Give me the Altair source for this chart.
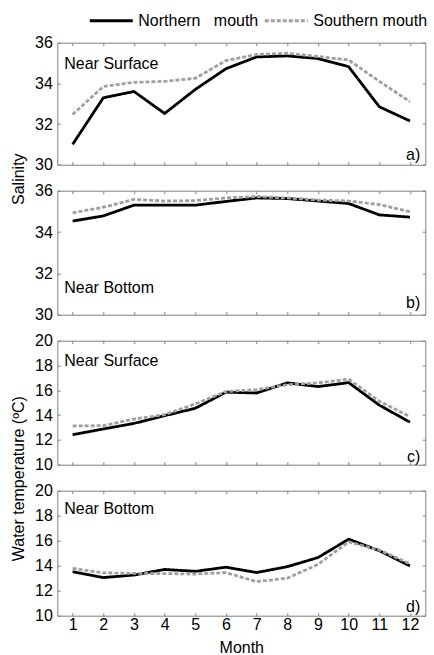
import altair as alt
import pandas as pd

months = list(range(1, 13))
series_names = ["Northern\u00a0\u00a0 mouth", "Southern mouth"]

sal_surf_north = [31.0, 33.29, 33.6, 32.52, 33.7, 34.72, 35.3, 35.35, 35.22, 34.82, 32.85, 32.15]
sal_surf_south = [32.47, 33.85, 34.05, 34.1, 34.25, 35.12, 35.42, 35.48, 35.32, 35.15, 34.1, 33.1]
sal_bot_north = [34.53, 34.78, 35.3, 35.3, 35.3, 35.48, 35.65, 35.62, 35.5, 35.38, 34.83, 34.72]
sal_bot_south = [34.93, 35.2, 35.58, 35.5, 35.52, 35.65, 35.72, 35.65, 35.55, 35.5, 35.33, 34.98]
temp_surf_north = [12.42, 12.88, 13.33, 13.95, 14.55, 15.85, 15.78, 16.6, 16.3, 16.62, 14.8, 13.43]
temp_surf_south = [13.12, 13.15, 13.68, 14.03, 14.9, 15.9, 16.05, 16.45, 16.6, 16.9, 15.12, 13.88]
temp_bot_north = [13.52, 13.05, 13.25, 13.7, 13.55, 13.88, 13.45, 13.92, 14.65, 16.12, 15.2, 13.98]
temp_bot_south = [13.78, 13.43, 13.38, 13.37, 13.33, 13.45, 12.72, 13.0, 14.1, 15.9, 15.25, 14.15]

sal_ticks = [30, 32, 34, 36]
temp_ticks = [10, 12, 14, 16, 18, 20]

FONT = "Liberation Sans"
GRAY = "#808080"
W = 368


def panel(north, south, ydomain, yticks, height, near_text, near_y, letter, letter_dy,
          ytitle=None, title_y=None, show_x=False, legend=False):
    df = pd.DataFrame({
        "month": months * 2,
        "value": north + south,
        "series": [series_names[0]] * 12 + [series_names[1]] * 12,
    })
    xs = alt.Scale(domain=[0.5, 12.5], nice=False, zero=False)
    ys = alt.Scale(domain=ydomain, nice=False, zero=False)

    bx = dict(orient="bottom", values=months, offset=-3, tickSize=3, domain=False, grid=False,
              tickColor=GRAY, labels=show_x, labelFontSize=16, labelColor="black",
              labelPadding=1, titleFontSize=16, titleFontWeight="normal", titleColor="black",
              titlePadding=7)
    ly = dict(orient="left", values=yticks, offset=-3, tickSize=3, domain=False, grid=False,
              tickColor=GRAY, labelFontSize=16, labelColor="black", labelPadding=5)
    if ytitle:
        ly.update(title=ytitle, titleX=-34, titleY=title_y, titleAngle=270,
                  titleBaseline="bottom", titleAlign="center", titleFontSize=16,
                  titleFontWeight="normal", titleColor="black")

    if legend:
        leg = alt.Legend(title=None, orient="none", legendX=31, legendY=-30, direction="horizontal",
                         symbolType="stroke", symbolSize=1849, symbolStrokeWidth=3,
                         clipHeight=16, gridAlign="none",
                         labelFontSize=16, labelColor="black", labelOffset=4,
                         columnPadding=4, padding=0, labelFont=FONT)
    else:
        leg = None

    color = alt.Color("series:N", scale=alt.Scale(domain=series_names, range=["#000000", "#a0a0a0"]),
                      legend=leg)
    dash = alt.StrokeDash("series:N", scale=alt.Scale(domain=series_names, range=[[1, 0], [4, 2]]),
                          legend=leg)

    lines = alt.Chart(df).mark_line(strokeWidth=2.8).encode(
        x=alt.X("month:Q", scale=xs, axis=alt.Axis(**bx), title="Month" if show_x else None),
        y=alt.Y("value:Q", scale=ys, axis=alt.Axis(**ly), title=ytitle if ytitle else None),
        color=color,
        strokeDash=dash,
        order=alt.Order("month:Q"),
    )
    ghost = alt.Chart(df).mark_point(opacity=0).encode(
        x=alt.X("month:Q", scale=xs, title=None,
                axis=alt.Axis(orient="top", values=months, offset=-3, tickSize=3, domain=False,
                              grid=False, labels=False, tickColor=GRAY)),
        y=alt.Y("value:Q", scale=ys, title=None,
                axis=alt.Axis(orient="right", values=yticks, offset=-3, tickSize=3, domain=False,
                              grid=False, labels=False, tickColor=GRAY)),
    )
    one = pd.DataFrame({"t": [near_text]})
    near = alt.Chart(one).mark_text(align="left", baseline="alphabetic", fontSize=16,
                                    font=FONT, color="black").encode(
        x=alt.value(7), y=alt.value(near_y), text="t:N")
    two = pd.DataFrame({"t": [letter]})
    let = alt.Chart(two).mark_text(align="right", baseline="alphabetic", fontSize=16,
                                   font=FONT, color="black").encode(
        x=alt.value(W - 5), y=alt.value(height - letter_dy), text="t:N")

    return alt.layer(lines, ghost, near, let).resolve_axis(x="independent", y="independent").properties(
        width=W, height=height)


pa = panel(sal_surf_north, sal_surf_south, [30, 36], sal_ticks, 122, "Near Surface", 26.5, "a)", 5,
           ytitle="Salinity", title_y=136, legend=True)
pb = panel(sal_bot_north, sal_bot_south, [30, 36], sal_ticks, 124, "Near Bottom", 102, "b)", 7)
pc = panel(temp_surf_north, temp_surf_south, [10, 20], temp_ticks, 124, "Near Surface", 25.5, "c)", 3,
           ytitle="Water temperature (\u00baC)", title_y=137.5)
pd_ = panel(temp_bot_north, temp_bot_south, [10, 20], temp_ticks, 125, "Near Bottom", 23.5, "d)", 4,
            show_x=True)

chart = alt.vconcat(pa, pb, pc, pd_, spacing=26, bounds="flush").resolve_legend(
    color="independent", strokeDash="independent"
).properties(
    padding={"left": 9.3, "top": 11.7, "right": 0, "bottom": 0},
).configure(font=FONT).configure_view(stroke=GRAY, strokeWidth=1)

chart.save("out.html", embed_options={"renderer": "svg", "actions": False})
